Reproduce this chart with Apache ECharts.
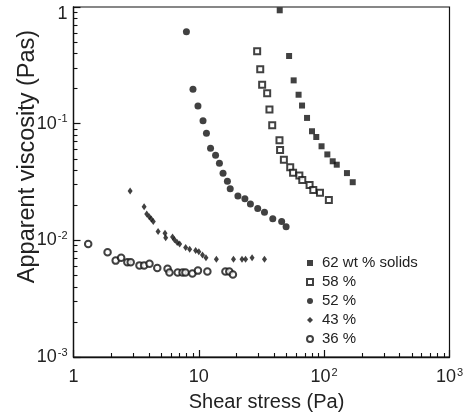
<!DOCTYPE html>
<html>
<head>
<meta charset="utf-8">
<script src="https://cdn.jsdelivr.net/npm/echarts@6/dist/echarts.min.js"></script>
<style>
  html, body { margin: 0; padding: 0; background: #fff; }
  #chart { width: 476px; height: 413px; }
</style>
</head>
<body>
<div id="chart"></div>
<script>
const seriesNames = ['62 wt % solids', '58 %', '52 %', '43 %', '36 %']

const stress62 = [44.2, 52.5, 57.1, 62.5, 66.6, 73.0, 80.0, 86.5, 95.3, 106, 117, 126, 152, 169]
const visc62 = [0.937, 0.380, 0.235, 0.177, 0.143, 0.112, 0.0861, 0.0769, 0.064, 0.0545, 0.0476, 0.0445, 0.0377, 0.0315]

const stress58 = [29.2, 30.9, 32.0, 35.1, 36.6, 38.5, 44.0, 44.5, 47.7, 53.6, 56.5, 63.4, 66.9, 76.5, 81.9, 92.6, 109]
const visc58 = [0.417, 0.292, 0.216, 0.182, 0.132, 0.0969, 0.0721, 0.0595, 0.0491, 0.0423, 0.0380, 0.0360, 0.0329, 0.0298, 0.0270, 0.0256, 0.0222]

const stress52 = [7.96, 8.98, 9.84, 10.8, 11.5, 12.4, 13.6, 14.6, 15.6, 16.9, 17.8, 20.5, 23.3, 25.8, 29.5, 33.4, 38.9, 45.8, 49.7]
const visc52 = [0.614, 0.197, 0.142, 0.106, 0.0827, 0.0616, 0.0536, 0.0458, 0.0376, 0.0321, 0.0277, 0.0240, 0.0227, 0.0205, 0.0187, 0.0174, 0.0153, 0.0145, 0.0131]

const stress43 = [2.83, 3.66, 3.84, 4.02, 4.17, 4.33, 4.73, 5.37, 5.44, 6.17, 6.40, 6.72, 7.03, 7.85, 8.45, 9.43, 10.0, 10.7, 11.4, 13.8, 18.9, 22.1, 23.6, 26.6, 33.4]
const visc43 = [0.0265, 0.0194, 0.0168, 0.0159, 0.0152, 0.0145, 0.0119, 0.0115, 0.0105, 0.0107, 0.0101, 0.0096, 0.0093, 0.0087, 0.0084, 0.0082, 0.0080, 0.0075, 0.0071, 0.0069, 0.0069, 0.0069, 0.0069, 0.0071, 0.0069]

const stress36 = [1.31, 1.87, 2.17, 2.40, 2.69, 2.86, 3.36, 3.66, 4.04, 4.66, 5.63, 5.83, 6.78, 7.41, 7.82, 8.88, 9.84, 11.7, 16.3, 17.5, 18.7]
const visc36 = [0.0093, 0.0079, 0.0067, 0.0071, 0.0065, 0.0065, 0.0061, 0.0061, 0.0063, 0.0058, 0.0057, 0.0053, 0.0053, 0.0053, 0.0053, 0.0052, 0.0055, 0.0054, 0.0054, 0.0054, 0.0051]

// tick labels, exponent written after '^'
const xTickValues = [1, 10, 100, 1000]
const xTickLabels = ['1', '10', '10^2', '10^3']
const yTickValues = [0.001, 0.01, 0.1, 1]
const yTickLabels = ['10^-3', '10^-2', '10^-1', '1']

const font = "'Liberation Sans', Arial, Helvetica, sans-serif"
const ink = '#111'

const gridLeft = 73.5
const gridRight = 26.5
const gridTop = 7
const gridBottom = 56
const plotW = 476 - gridLeft - gridRight
const plotH = 413 - gridTop - gridBottom

const pairs = (xs, ys) => xs.map((x, i) => [x, ys[i]])

const tickText = (values, labels, topKey) => (val) => {
  const i = values.findIndex(v => Math.abs(Math.log10(v) - Math.log10(val)) < 1e-6)
  if (i < 0) return ''
  const parts = labels[i].split('^')
  if (parts.length > 1) return '{b|' + parts[0] + '}{s|' + parts[1] + '}'
  // the top "1" on the y axis sits a little below its tick
  if (topKey && i === values.length - 1) return '{' + topKey + '|' + parts[0] + '}'
  return '{b|' + parts[0] + '}'
}

const labelRich = {
  b: { fontSize: 18, fontFamily: font, color: '#222', lineHeight: 20 },
  s: { fontSize: 11, fontFamily: font, color: '#222', lineHeight: 11, verticalAlign: 'top', padding: [0, 0, 0, 1] },
  t: { fontSize: 18, fontFamily: font, color: '#222', lineHeight: 20, padding: [15, 0, 0, 0] }
}

// inward ticks: a second axis on the opposite side, offset back onto the box edge
const tickAxis = {
  type: 'log',
  logBase: 10,
  axisLine: { show: false },
  axisTick: { show: true, length: 7, lineStyle: { color: ink, width: 1.2 } },
  minorTick: { show: true, splitNumber: 9, length: 4, lineStyle: { color: ink, width: 1.1 } },
  axisLabel: { show: false },
  splitLine: { show: false },
  minorSplitLine: { show: false }
}

const chart = echarts.init(document.getElementById('chart'))

const option = {
  backgroundColor: '#fff',
  animation: false,
  textStyle: { fontFamily: font },
  grid: {
    left: gridLeft,
    right: gridRight,
    top: gridTop,
    bottom: gridBottom,
    outerBoundsMode: 'none',
    show: true,
    borderColor: ink,
    borderWidth: 1.2
  },
  legend: {
    orient: 'vertical',
    left: 301,
    top: 250,
    itemWidth: 6,
    itemHeight: 6,
    itemGap: 3,
    data: seriesNames,
    textStyle: { fontSize: 15, color: '#222', lineHeight: 16, padding: [0, 0, 0, 4] }
  },
  xAxis: [
    {
      type: 'log',
      logBase: 10,
      min: 1,
      max: 1000,
      name: 'Shear stress (Pa)',
      nameLocation: 'middle',
      nameGap: 35,
      nameMoveOverlap: false,
      nameTextStyle: { fontSize: 20, color: '#222', padding: [0, 0, 0, 10] },
      axisLine: { show: true, lineStyle: { color: ink, width: 1.3 } },
      axisTick: { show: false },
      minorTick: { show: false },
      splitLine: { show: false },
      axisLabel: {
        margin: 10,
        formatter: tickText(xTickValues, xTickLabels),
        rich: labelRich
      }
    },
    { ...tickAxis, position: 'top', offset: -plotH, min: 1, max: 1000 }
  ],
  yAxis: [
    {
      type: 'log',
      logBase: 10,
      min: 0.001,
      max: 1,
      name: 'Apparent viscosity (Pas)',
      nameLocation: 'middle',
      nameRotate: 90,
      nameGap: 34,
      nameMoveOverlap: false,
      nameTextStyle: { fontSize: 23.5, color: '#222', padding: [0, 0, 0, 51] },
      axisLine: { show: true, lineStyle: { color: ink, width: 1.3 } },
      axisTick: { show: false },
      minorTick: { show: false },
      splitLine: { show: false },
      axisLabel: {
        margin: 6,
        formatter: tickText(yTickValues, yTickLabels, 't'),
        rich: labelRich
      }
    },
    { ...tickAxis, position: 'right', offset: -plotW, min: 0.001, max: 1 }
  ],
  series: [
    {
      name: seriesNames[0],
      type: 'scatter',
      symbol: 'rect',
      symbolSize: 6,
      itemStyle: { color: ink },
      data: pairs(stress62, visc62)
    },
    {
      name: seriesNames[1],
      type: 'scatter',
      symbol: 'emptyRect',
      symbolSize: 6,
      itemStyle: { color: ink, borderColor: ink, borderWidth: 1.2 },
      data: pairs(stress58, visc58)
    },
    {
      name: seriesNames[2],
      type: 'scatter',
      symbol: 'circle',
      symbolSize: 7,
      itemStyle: { color: ink },
      data: pairs(stress52, visc52)
    },
    {
      name: seriesNames[3],
      type: 'scatter',
      symbol: 'diamond',
      symbolSize: [5, 7],
      itemStyle: { color: ink },
      data: pairs(stress43, visc43)
    },
    {
      name: seriesNames[4],
      type: 'scatter',
      symbol: 'emptyCircle',
      symbolSize: 6.5,
      itemStyle: { color: ink, borderColor: ink, borderWidth: 1.1 },
      data: pairs(stress36, visc36)
    }
  ]
}

chart.setOption(option)
</script>
</body>
</html>
